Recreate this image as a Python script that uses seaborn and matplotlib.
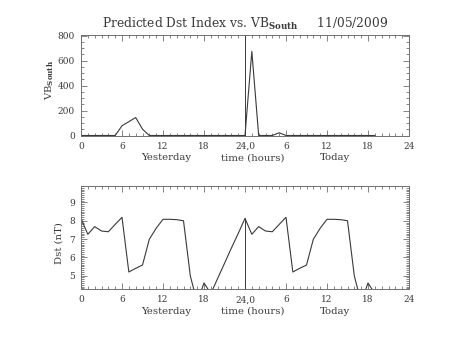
import matplotlib
matplotlib.use("Agg")
import matplotlib.pyplot as plt
from matplotlib.ticker import MultipleLocator, FixedLocator
import numpy as np
import pandas as pd
import seaborn as sns

# Hourly solar-wind driver (VB south) and predicted Dst, yesterday and today
vb_yesterday = [0, 0, 0, 0, 0, 0, 78, 111, 144, 51, 0, 0,
                0, 0, 0, 0, 0, 0, 0, 0, 0, 0, 0, 0]
vb_today = [0, 675, 0, 0, 0, 22, 0, 0, 0, 0, 0, 0,
            0, 0, 0, 0, 0, 0, 0, 0]
dst_yesterday = [8.13, 7.26, 7.68, 7.44, 7.40, 7.80, 8.19, 5.20, 5.40, 5.58, 6.99, 7.59,
                 8.08, 8.08, 8.06, 8.00, 4.98, 3.54, 4.60, 4.02, 4.85, 5.67, 6.50, 7.30]
dst_today = [8.13, 7.26, 7.68, 7.44, 7.40, 7.80, 8.19, 5.20, 5.40, 5.58, 6.99, 7.59,
             8.08, 8.08, 8.06, 8.00, 4.98, 3.54, 4.60, 4.02]

tick_hours = [0, 6, 12, 18, 24, 30, 36, 42, 48]
tick_labels = ["0", "6", "12", "18", "24,0", "6", "12", "18", "24"]
day_boundary = 24
title = r"Predicted Dst Index vs. VB$_{\mathbf{South}}$     11/05/2009"

hours = np.arange(len(vb_yesterday) + len(vb_today))
df = pd.DataFrame({
    "hour": hours,
    "vb": vb_yesterday + vb_today,
    "dst": dst_yesterday + dst_today,
})

sns.set_style("ticks")
plt.rcParams["font.family"] = ["DejaVu Serif"]
plt.rcParams["mathtext.fontset"] = "dejavuserif"

ink = "#3a3a3a"
frame = "#707070"

fig = plt.figure(figsize=(4.53, 3.40), dpi=100)
W, H = 453, 340
ax1 = fig.add_axes([81 / W, 1 - 135.5 / H, 328 / W, 101 / H])
ax2 = fig.add_axes([81 / W, 1 - 289 / H, 328 / W, 103 / H])

sns.lineplot(data=df, x="hour", y="vb", ax=ax1, color=ink, lw=0.8, estimator=None)
sns.lineplot(data=df, x="hour", y="dst", ax=ax2, color=ink, lw=0.8, estimator=None)

ax1.set_ylim(0, 810)
ax2.set_ylim(4.27, 9.9)

# Day boundary marker
ax1.axvline(day_boundary, color=ink, lw=0.7)
boundary_dst = df.loc[df["hour"] == day_boundary, "dst"].iloc[0]
ax2.vlines(day_boundary, 4.27, boundary_dst, color=ink, lw=0.7)

for ax in (ax1, ax2):
    ax.set_xlim(0, 48)
    ax.xaxis.set_major_locator(FixedLocator(tick_hours))
    ax.set_xticklabels(tick_labels)
    ax.xaxis.set_minor_locator(MultipleLocator(1))
    ax.tick_params(which="both", direction="in", top=True, right=True,
                   color=frame, width=0.6, labelsize=6.5, labelcolor=ink, pad=4.5)
    ax.tick_params(which="major", length=4)
    ax.tick_params(which="minor", length=2)
    for s in ax.spines.values():
        s.set_color(frame)
        s.set_linewidth(0.7)
    ax.set_xlabel("")
    ax.set_ylabel("")
    for txt, hx in (("Yesterday", 12.4), ("time (hours)", 25.2), ("Today", 37.1)):
        ax.annotate(txt, xy=(hx, 0), xycoords=("data", "axes fraction"),
                    xytext=(0, -18), textcoords="offset points",
                    ha="center", va="baseline", fontsize=7.3, color=ink)

ax1.yaxis.set_major_locator(MultipleLocator(200))
ax1.yaxis.set_minor_locator(MultipleLocator(50))
ax2.yaxis.set_major_locator(MultipleLocator(1))
ax2.yaxis.set_minor_locator(MultipleLocator(0.1))

ax1.set_ylabel(r"VB$_{\mathbf{South}}$", fontsize=7.3, color=ink)
ax1.yaxis.set_label_coords(-0.076, 0.55)
ax2.set_ylabel("Dst (nT)", fontsize=7.3, color=ink)
ax2.yaxis.set_label_coords(-0.054, 0.45)

ax1.set_title(title, fontsize=8.8, color=ink, pad=5)

fig.savefig("out.png", dpi=100)
